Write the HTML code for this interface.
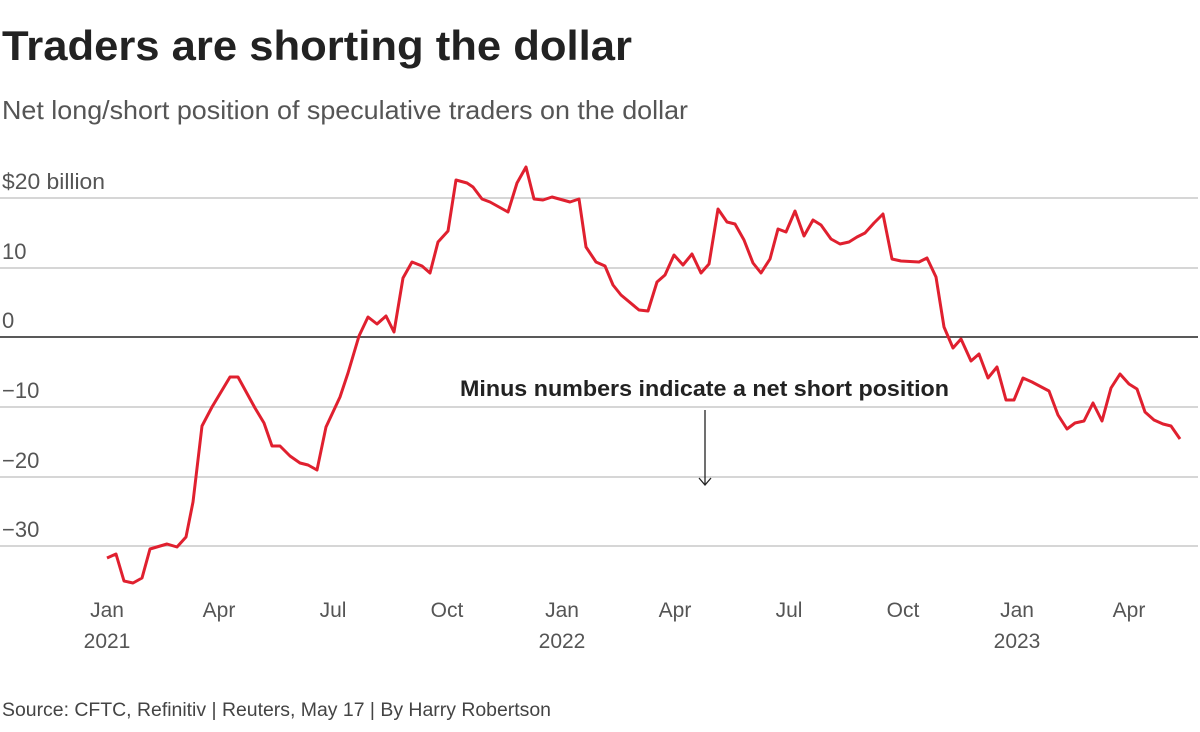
<!DOCTYPE html>
<html><head><meta charset="utf-8"><style>
body{margin:0;background:#fff;width:1200px;height:727px;overflow:hidden;font-family:"Liberation Sans",sans-serif}
</style></head><body>
<svg width="1200" height="727" xmlns="http://www.w3.org/2000/svg" font-family="Liberation Sans, sans-serif">
<text x="2" y="60" font-size="42" font-weight="bold" fill="#222" textLength="630" lengthAdjust="spacingAndGlyphs">Traders are shorting the dollar</text>
<text x="2" y="119" font-size="26" fill="#555" textLength="686" lengthAdjust="spacingAndGlyphs">Net long/short position of speculative traders on the dollar</text>
<g stroke="#c8c8c8" stroke-width="1.5">
<line x1="0" y1="198" x2="1198" y2="198"/><line x1="0" y1="268" x2="1198" y2="268"/>
<line x1="0" y1="407" x2="1198" y2="407"/><line x1="0" y1="477" x2="1198" y2="477"/><line x1="0" y1="546" x2="1198" y2="546"/>
</g>
<line x1="0" y1="337" x2="1198" y2="337" stroke="#222" stroke-width="1.5"/>
<g font-size="22" fill="#555">
<text x="2" y="189" textLength="103" lengthAdjust="spacingAndGlyphs">$20 billion</text><text x="2" y="259">10</text><text x="2" y="328">0</text>
<text x="2" y="398">−10</text><text x="2" y="468">−20</text><text x="2" y="537">−30</text>
</g>
<g font-size="21" fill="#555" text-anchor="middle">
<text x="107" y="617">Jan</text><text x="107" y="648">2021</text>
<text x="219" y="617">Apr</text><text x="333" y="617">Jul</text><text x="447" y="617">Oct</text>
<text x="562" y="617">Jan</text><text x="562" y="648">2022</text>
<text x="675" y="617">Apr</text><text x="789" y="617">Jul</text><text x="903" y="617">Oct</text>
<text x="1017" y="617">Jan</text><text x="1017" y="648">2023</text><text x="1129" y="617">Apr</text>
</g>
<text x="460" y="396" font-size="22" font-weight="bold" fill="#222" textLength="489" lengthAdjust="spacingAndGlyphs">Minus numbers indicate a net short position</text>
<line x1="705" y1="410" x2="705" y2="485" stroke="#222" stroke-width="1.3"/>
<polyline points="699,478 705,485 711,478" fill="none" stroke="#222" stroke-width="1.3"/>
<polyline fill="none" stroke="#e0202f" stroke-width="3" stroke-linejoin="round" points="107,558 116,554 124,581 133,583 142,578 150,549 167,544 177,547 186,537 193,502 202,426 212,407 230,377 238,377 255,408 264,423 272,446 280,446 290,456 300,463 308,465 317,470 326,427 340,397 348,373 359,336 368,317 377,324 386,316 394,332 403,278 412,262 422,266 430,273 438,242 448,231 456,180 467,183 473,187 482,199 490,202 508,212 517,183 526,167 534,199 543,200 552,197 570,202 579,199 586,247 596,262 605,266 613,285 621,295 639,310 648,311 657,282 665,275 674,255 683,265 692,254 701,273 709,264 718,209 727,222 735,224 744,240 753,263 761,273 770,259 778,229 786,232 795,211 804,236 813,220 821,225 831,239 840,244 849,242 857,237 865,233 874,223 883,214 892,259 901,261 919,262 927,258 936,277 944,327 953,348 961,339 971,361 979,354 988,378 997,367 1006,400 1014,400 1023,378 1032,382 1049,391 1058,415 1067,429 1075,423 1084,421 1093,403 1102,421 1111,388 1120,374 1129,384 1137,389 1145,412 1154,420 1163,424 1171,426 1180,439"/>
<text x="2" y="716" font-size="19" fill="#444" textLength="549" lengthAdjust="spacingAndGlyphs">Source: CFTC, Refinitiv | Reuters, May 17 | By Harry Robertson</text>
</svg>
</body></html>
